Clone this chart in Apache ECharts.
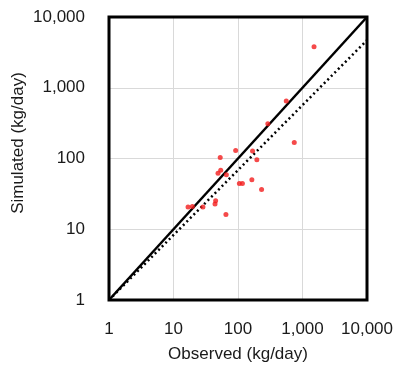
<!DOCTYPE html>
<html>
<head>
<meta charset="utf-8">
<script src="https://cdn.jsdelivr.net/npm/echarts@6/dist/echarts.min.js"></script>
<style>html,body{margin:0;padding:0;background:#fff;}#c{width:396px;height:373px;}</style>
</head>
<body>
<div id="c"></div>
<script>
// Observed (kg/day) and Simulated (kg/day)
var observed  = [1510, 560, 290, 745, 92, 168, 196, 53, 54, 49, 66, 164, 105, 117, 232, 16.8, 19.6, 28.6, 45, 44, 65];
var simulated = [3800, 650, 310, 168, 130, 128, 96, 103, 68, 62, 59, 50, 44.5, 44.5, 36.5, 20.6, 21, 20.6, 25.3, 22.7, 16.1];
var oneToOneLine = [[1, 1], [10000, 10000]];
var fitLine = [[1, 1], [10000, 4700]];
var tickValues = [1, 10, 100, 1000, 10000];

var points = observed.map(function (o, i) { return [o, simulated[i]]; });
var font = 'Liberation Sans';
var fmt = function (v) { return Number(v).toLocaleString('en-US'); };
var chart = echarts.init(document.getElementById('c'));
chart.setOption({
  animation: false,
  grid: { left: 109, right: 27, top: 17, bottom: 73, show: true, borderColor: '#000', borderWidth: 3, backgroundColor: 'transparent', z: 5 },
  xAxis: {
    type: 'log', logBase: 10, min: 1, max: 10000,
    name: 'Observed (kg/day)', nameLocation: 'middle', nameGap: 46,
    nameTextStyle: { fontFamily: font, fontSize: 17, color: '#1a1a1a' },
    axisLine: { show: false }, axisTick: { show: false },
    axisLabel: { margin: 21, fontFamily: font, fontSize: 17, color: '#1a1a1a', formatter: fmt },
    splitLine: { show: true, lineStyle: { color: '#d9d9d9', width: 1 } }
  },
  yAxis: {
    type: 'log', logBase: 10, min: 1, max: 10000,
    axisLine: { show: false }, axisTick: { show: false },
    axisLabel: { margin: 24, fontFamily: font, fontSize: 17, color: '#1a1a1a', formatter: fmt },
    splitLine: { show: true, lineStyle: { color: '#d9d9d9', width: 1 } }
  },
  graphic: [{
    type: 'text', x: 18, y: 143, rotation: Math.PI / 2,
    style: { text: 'Simulated (kg/day)', fontFamily: font, fontSize: 17, fill: '#1a1a1a', textAlign: 'center', textVerticalAlign: 'middle' }
  }],
  series: [
    { type: 'line', data: oneToOneLine, symbol: 'none', lineStyle: { color: '#000', width: 2.5 }, z: 2 },
    { type: 'line', data: fitLine, symbol: 'none', lineStyle: { color: '#000', width: 2.5, type: [2, 3] }, z: 2 },
    { type: 'scatter', data: points, symbolSize: 5, itemStyle: { color: '#f21d1d' }, z: 3 }
  ]
});
</script>
</body>
</html>
